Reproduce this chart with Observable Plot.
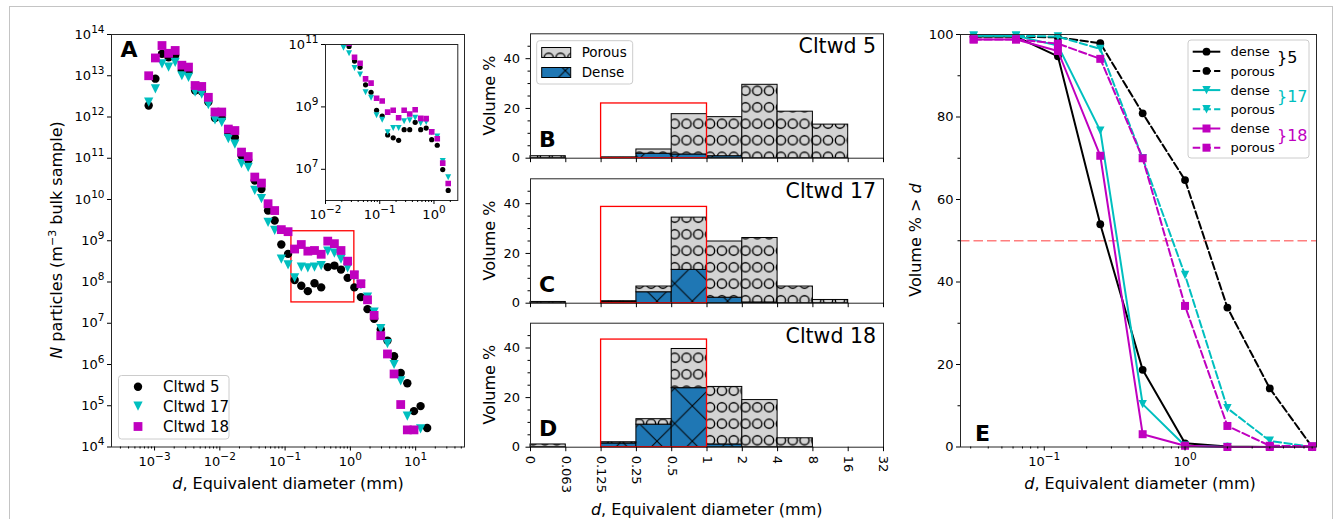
<!DOCTYPE html>
<html>
<head>
<meta charset="utf-8">
<script src="https://cdn.jsdelivr.net/npm/d3@7"></script>
<script src="https://cdn.jsdelivr.net/npm/@observablehq/plot@0.6"></script>
<style>
html,body{margin:0;padding:0;background:#fff;}
#fig{position:relative;width:1342px;height:519px;overflow:hidden;background:#fff;font-family:"DejaVu Sans",sans-serif;}
#fig > svg{position:absolute;overflow:visible;}
</style>
</head>
<body>
<div id="fig"></div>
<script>
// ---------------- Panel A: particle number vs equivalent diameter ----------------
const diamA = [0.000813,0.00103,0.0013,0.00164,0.00207,0.00262,0.00331,0.00418,0.00528,0.00667,0.00843,0.0107,0.0135,0.017,0.0215,0.0272,0.0343,0.0434,0.0548,0.0692,0.0875,0.111,0.14,0.177,0.223,0.282,0.357,0.45,0.569,0.718,0.908,1.15,1.45,1.83,2.31,2.92,3.7,4.67,5.9,7.45,9.42,11.9,15.0];
const nCltwd5  = [1.9e12,8.5e12,3.4e13,2.8e13,3.1e13,1.35e13,1.23e13,4.4e12,4.2e12,2.3e12,9.5e11,9.5e11,3.9e11,3.2e11,1.17e11,8.9e10,2.9e10,1.8e10,5.4e9,3.1e9,8.1e8,4.8e8,1.12e8,8.1e7,6.0e7,9.3e7,7.4e7,2.3e8,2.5e8,2.0e8,1.26e8,7.4e7,4.3e7,2.2e7,1.29e7,7.1e6,3.8e6,1.58e6,6.2e5,3.5e5,7.4e4,9.8e4,2.9e4];
const nCltwd17 = [2.3e12,4.8e12,1.95e13,1.62e13,2.1e13,1.0e13,9.1e12,4.0e12,3.6e12,2.0e12,8.5e11,7.4e11,3.0e11,2.2e11,7.4e10,6.0e10,1.66e10,1.05e10,2.8e9,1.78e9,3.6e8,2.6e8,1.26e8,2.3e8,2.2e8,2.3e8,2.5e8,5.6e8,5.0e8,3.6e8,2.2e8,1.4e8,8.5e7,4.3e7,1.86e7,7.4e6,3.2e6,1.0e6,4.0e5,5.6e4,null,2.75e4,null];
const nCltwd18 = [1.0e13,2.7e13,5.4e13,3.5e13,4.1e13,1.8e13,1.62e13,5.8e12,5.5e12,3.0e12,1.32e12,1.32e12,5.1e11,4.7e11,1.41e11,1.1e11,3.5e10,2.5e10,7.9e9,5.4e9,1.86e9,1.66e9,6.3e8,8.1e8,5.6e8,5.8e8,4.7e8,9.8e8,8.5e8,5.8e8,3.2e8,1.5e8,9.1e7,3.7e7,1.55e7,5.0e6,1.8e6,5.9e5,1.07e5,2.6e4,2.6e4,null,null];
const boxA = {d1: 0.125, d2: 1.15, n1: 3.2e7, n2: 1.7e9};
const ticksAX = [1e-3, 1e-2, 1e-1, 1, 10];
const ticksAY = [1e4,1e5,1e6,1e7,1e8,1e9,1e10,1e11,1e12,1e13,1e14];

// Inset of panel A
const diamInset = [0.0215,0.0272,0.0343,0.0434,0.0548,0.0692,0.0875,0.111,0.14,0.177,0.223,0.282,0.357,0.45,0.569,0.718,0.908,1.15,1.45,1.83];
const insetCltwd5  = [1.17e11,8.7e10,2.95e10,1.86e10,5.1e9,2.95e9,7.8e8,5.1e8,1.26e8,1.02e8,8.5e7,1.86e8,1.86e8,3.2e8,1.86e8,2.1e8,8.9e7,5.9e7,9.8e6,2.1e6];
const insetCltwd17 = [7.8e10,5.2e10,1.78e10,1.1e10,2.95e9,1.95e9,5.4e8,3.9e8,1.55e8,2.1e8,2.1e8,3.5e8,3.7e8,4.5e8,3.0e8,3.3e8,1.55e8,1.12e8,1.86e7,5.6e6];
const insetCltwd18 = [1.41e11,1.1e11,3.9e10,2.5e10,7.9e9,5.8e9,1.9e9,1.55e9,6.8e8,7.8e8,4.5e8,7.8e8,5.9e8,8.1e8,4.3e8,4.2e8,1.58e8,9.5e7,1.58e7,3.5e6];
const ticksInsetX = [0.01, 0.1, 1];
const ticksInsetY = [1e7, 1e9, 1e11];

// ---------------- Panels B-D: volume % per size bin ----------------
const binEdges = ["0","0.063","0.125","0.25","0.5","1","2","4","8","16","32"];
const dense5   = [0, 0, 0.2, 1.8, 1.5, 0.8, 0, 0, 0, 0];
const porous5  = [0.8, 0, 0.1, 1.7, 16.2, 15.7, 29.5, 18.7, 13.5, 0];
const dense17  = [0, 0, 0.5, 4.4, 13.4, 2.2, 0.3, 0, 0, 0];
const porous17 = [0.5, 0, 0.3, 2.3, 21.0, 22.6, 25.9, 6.7, 1.3, 0];
const dense18  = [0, 0, 1.5, 9.1, 23.8, 1.1, 0, 0, 0, 0];
const porous18 = [1.1, 0, 0.5, 2.2, 15.8, 23.2, 19.0, 3.6, 0, 0];
const boxEdges = ["0.125", "1"];
const boxTops = [22, 38.7, 43.4];
const ticksVol = [0, 20, 40];
const minorVol = [5, 10, 15, 25, 30, 35, 45];

// ---------------- Panel E: cumulative volume % > d ----------------
const dE = [0.0315, 0.063, 0.125, 0.25, 0.5, 1, 2, 4, 8];
const dense5E   = [99.5, 99.5, 94.7, 54.0, 18.7, 0.9, 0.1, 0, 0];
const porous5E  = [99.5, 99.5, 99.3, 97.9, 80.9, 64.7, 33.8, 14.2, 0];
const dense17E  = [99.7, 99.7, 97.3, 76.7, 10.4, 0.3, 0, 0, 0];
const porous17E = [99.7, 99.7, 99.5, 96.5, 70.0, 41.7, 9.4, 1.5, 0];
const dense18E  = [98.8, 98.8, 96.0, 70.6, 3.1, 0.3, 0, 0, 0];
const porous18E = [98.8, 98.8, 97.8, 94.1, 70.0, 34.2, 5.1, 0.3, 0.2];
const ticksEX = [0.1, 1];
const ticksEY = [0, 20, 40, 60, 80, 100];
const minorEY = [10, 30, 50, 70, 90];

// ---------------- helpers ----------------
const NS = "http://www.w3.org/2000/svg";
const fig = document.getElementById("fig");
const colK = "#000000", colC = "#00bfbf", colM = "#bf00bf";
const colBlue = "#1f77b4", colGray = "#d3d3d3";
const symTri = {draw(c, size){ const r = Math.sqrt(size/Math.PI); c.moveTo(-r,-r); c.lineTo(r,-r); c.lineTo(0,r); c.closePath(); }};
const symSq  = {draw(c, size){ const r = Math.sqrt(size/Math.PI); c.moveTo(-r,-r); c.lineTo(r,-r); c.lineTo(r,r); c.lineTo(-r,r); c.closePath(); }};
const baseStyle = {fontFamily: '"DejaVu Sans", sans-serif', fontSize: "13px", color: "#000", overflow: "visible"};
const pow = v => "10^" + Math.round(Math.log10(v));
const blank = () => "";
function logMinors(lo, hi) {
  const out = [];
  for (let k = Math.floor(Math.log10(lo)); k <= Math.ceil(Math.log10(hi)); k++)
    for (let m = 2; m <= 9; m++) { const v = +(m * Math.pow(10, k)).toPrecision(6); if (v >= lo && v <= hi) out.push(v); }
  return out;
}
function supify(svg) {
  svg.querySelectorAll("text").forEach(t => {
    const m = /^10\^(-?\d+)$/.exec(t.textContent.trim());
    if (!m) return;
    t.textContent = "";
    const a = document.createElementNS(NS, "tspan"); a.textContent = "10";
    const b = document.createElementNS(NS, "tspan"); b.textContent = m[1].replace("-", "\u2212");
    b.setAttribute("dy", "-6"); b.setAttribute("font-size", "10.5px");
    t.append(a, b);
  });
}
function put(svg, left, top) {
  svg.style.position = "absolute"; svg.style.left = left + "px"; svg.style.top = top + "px";
  fig.appendChild(svg); supify(svg);
}

// pattern defs (hatches)
fig.insertAdjacentHTML("beforeend", `
<svg width="0" height="0" style="left:0;top:0">
 <defs>
  <pattern id="hatchO" patternUnits="userSpaceOnUse" width="11.8" height="16.5">
    <rect width="11.8" height="16.5" fill="${colGray}"/>
    <circle cx="5.9" cy="8.25" r="4.6" fill="none" stroke="#000" stroke-width="1.4"/>
  </pattern>
  <pattern id="hatchX" patternUnits="userSpaceOnUse" width="35.3" height="35.3" x="530" y="0">
    <rect width="35.3" height="35.3" fill="${colBlue}"/>
    <path d="M0,0L35.3,35.3M35.3,0L0,35.3" stroke="#000" stroke-width="1"/>
  </pattern>
 </defs>
</svg>`);

// ---------------- Panel A ----------------
const rowsA = diamA.map((d, i) => ({d, n5: nCltwd5[i], n17: nCltwd17[i], n18: nCltwd18[i]}));
const plotA = Plot.plot({
  width: 480, height: 519, marginLeft: 111, marginRight: 16, marginTop: 34, marginBottom: 72.5,
  style: baseStyle,
  x: {type: "log", domain: [2.19e-4, 56], label: null},
  y: {type: "log", domain: [1e4, 1e14], label: null},
  marks: [
    Plot.rect([boxA], {x1: "d1", x2: "d2", y1: "n1", y2: "n2", fill: "none", stroke: "#ff0000", strokeWidth: 1.3}),
    Plot.dot(rowsA, {x: "d", y: "n5", r: 4.2, symbol: "circle", fill: colK}),
    Plot.dot(rowsA, {x: "d", y: "n17", r: 4.6, symbol: symTri, fill: colC}),
    Plot.dot(rowsA, {x: "d", y: "n18", r: 4.4, symbol: symSq, fill: colM}),
    Plot.frame({stroke: "#262626"}),
    Plot.axisY({ticks: ticksAY, tickFormat: pow, tickSize: 4, tickPadding: 3, label: null}),
    Plot.axisX({ticks: ticksAX, tickFormat: pow, tickSize: 4, tickPadding: 6, label: null}),
    Plot.axisX({ticks: logMinors(2.19e-4, 56), tickFormat: blank, tickSize: 2, label: null})
  ]
});
put(plotA, 0, 0);

// ---------------- Inset ----------------
const rowsIn = diamInset.map((d, i) => ({d, n5: insetCltwd5[i], n17: insetCltwd17[i], n18: insetCltwd18[i]}));
const plotIn = Plot.plot({
  width: 180, height: 200, marginLeft: 35, marginRight: 12.7, marginTop: 14, marginBottom: 30,
  style: baseStyle,
  x: {type: "log", domain: [0.01, 2.75], label: null},
  y: {type: "log", domain: [1e6, 1e11], label: null},
  marks: [
    Plot.frame({fill: "white", stroke: null}),
    Plot.dot(rowsIn, {x: "d", y: "n5", r: 2.6, symbol: "circle", fill: colK, clip: true}),
    Plot.dot(rowsIn, {x: "d", y: "n17", r: 3.0, symbol: symTri, fill: colC, clip: true}),
    Plot.dot(rowsIn, {x: "d", y: "n18", r: 2.8, symbol: symSq, fill: colM, clip: true}),
    Plot.frame({stroke: "#262626"}),
    Plot.axisY({ticks: ticksInsetY, tickFormat: pow, tickSize: 4, tickPadding: 3, label: null}),
    Plot.axisX({ticks: ticksInsetX, tickFormat: pow, tickSize: 4, tickPadding: 5, label: null}),
    Plot.axisX({ticks: logMinors(0.01, 2.75), tickFormat: blank, tickSize: 2, label: null})
  ]
});
put(plotIn, 290, 30);

// ---------------- Panels B, C, D ----------------
function histPanel(dense, porous, boxTop, height, mt, mb, showLabels) {
  const rows = dense.map((v, i) => ({i, dense: v, top: v + porous[i]}));
  const box = [{a: binEdges.indexOf(boxEdges[0]), b: binEdges.indexOf(boxEdges[1]), t: boxTop}];
  return Plot.plot({
    width: 420, height, marginLeft: 50, marginRight: 17, marginTop: mt, marginBottom: mb,
    style: baseStyle,
    x: {domain: [0, binEdges.length - 1], label: null},
    y: {domain: [0, 50], label: null},
    marks: [
      Plot.rect(rows, {x1: "i", x2: d => d.i + 1, y1: 0, y2: "dense", fill: "url(#hatchX)", stroke: "#000", strokeWidth: 1}),
      Plot.rect(rows, {x1: "i", x2: d => d.i + 1, y1: "dense", y2: "top", fill: "url(#hatchO)", stroke: "#000", strokeWidth: 1}),
      Plot.rect(box, {x1: "a", x2: "b", y1: 0, y2: "t", fill: "none", stroke: "#ff0000", strokeWidth: 1.3}),
      Plot.frame({stroke: "#262626"}),
      Plot.axisY({ticks: ticksVol, tickSize: 4.5, tickPadding: 6, label: null}),
      Plot.axisY({ticks: minorVol, tickFormat: blank, tickSize: 2.5, label: null}),
      showLabels
        ? Plot.axisX({ticks: d3.range(binEdges.length), tickFormat: i => binEdges[i], tickRotate: 90, tickSize: 4.5, tickPadding: 4, label: null})
        : Plot.axisX({ticks: d3.range(binEdges.length), tickFormat: blank, tickSize: 4.5, label: null})
    ]
  });
}
put(histPanel(dense5, porous5, boxTops[0], 175, 33.3, 17.3, false), 480, 0);
put(histPanel(dense17, porous17, boxTops[1], 160, 18.3, 17.3, false), 480, 160);
put(histPanel(dense18, porous18, boxTops[2], 219, 22.7, 72.3, true), 480, 300);

// ---------------- Panel E ----------------
const dashE = "7.5,3.2";
const seriesE = [
  {vals: dense5E,   color: colK, sym: "circle", r: 3.9, dash: null},
  {vals: porous5E,  color: colK, sym: "circle", r: 3.9, dash: dashE},
  {vals: dense17E,  color: colC, sym: symTri,  r: 4.2, dash: null},
  {vals: porous17E, color: colC, sym: symTri,  r: 4.2, dash: dashE},
  {vals: dense18E,  color: colM, sym: symSq,   r: 4.0, dash: null},
  {vals: porous18E, color: colM, sym: symSq,   r: 4.0, dash: dashE}
];
const plotE = Plot.plot({
  width: 452, height: 519, marginLeft: 70, marginRight: 26, marginTop: 34, marginBottom: 72.5,
  style: baseStyle,
  x: {type: "log", domain: [0.0254, 8.59], label: null},
  y: {domain: [0, 100], label: null},
  marks: [
    Plot.ruleY([50], {stroke: "#ff7f7f", strokeWidth: 1.6, strokeDasharray: "9.5,4"}),
    ...seriesE.flatMap(s => {
      const rows = dE.map((d, i) => ({d, v: s.vals[i]}));
      return [
        Plot.line(rows, {x: "d", y: "v", stroke: s.color, strokeWidth: 2, strokeDasharray: s.dash}),
        Plot.dot(rows, {x: "d", y: "v", r: s.r, symbol: s.sym, fill: s.color})
      ];
    }),
    Plot.frame({stroke: "#262626"}),
    Plot.axisY({ticks: ticksEY, tickSize: 4, tickPadding: 3, label: null}),
    Plot.axisY({ticks: minorEY, tickFormat: blank, tickSize: 2.5, label: null}),
    Plot.axisX({ticks: ticksEX, tickFormat: pow, tickSize: 4, tickPadding: 6, label: null}),
    Plot.axisX({ticks: logMinors(0.0254, 8.59), tickFormat: blank, tickSize: 2, label: null})
  ]
});
put(plotE, 890, 0);

// ---------------- overlay: labels, legends, annotations ----------------
const tri = (x, y, r, c) => `<path d="M${x-r},${y-r}L${x+r},${y-r}L${x},${y+r}Z" fill="${c}"/>`;
const sq = (x, y, r, c) => `<rect x="${x-r}" y="${y-r}" width="${2*r}" height="${2*r}" fill="${c}"/>`;
const circ = (x, y, r, c) => `<circle cx="${x}" cy="${y}" r="${r}" fill="${c}"/>`;
const eRows = [51.7, 70.9, 90.1, 109.3, 128.5, 147.7];
const eLegend = seriesE.map((s, i) => {
  const y = eRows[i];
  const mk = s.sym === "circle" ? circ(1206.5, y, s.r, s.color) : s.sym === symTri ? tri(1206.5, y, s.r, s.color) : sq(1206.5, y, s.r, s.color);
  return `<line x1="1192.7" x2="1220.3" y1="${y}" y2="${y}" stroke="${s.color}" stroke-width="2" ${s.dash ? `stroke-dasharray="${s.dash}"` : ""}/>${mk}
  <text x="1230.5" y="${y + 4.7}" font-size="13">${i % 2 === 0 ? "dense" : "porous"}</text>`;
}).join("");
const histTitles = [["Cltwd 5", "B", 33.3, 157.7], ["Cltwd 17", "C", 178.3, 302.7], ["Cltwd 18", "D", 322.7, 446.7]];
fig.insertAdjacentHTML("beforeend", `
<svg width="1342" height="519" style="left:0;top:0" font-family="DejaVu Sans, sans-serif" fill="#000">
  <rect x="9.5" y="6.5" width="1323" height="540" fill="none" stroke="#c4c4c4" stroke-width="1"/>
  <text x="120.5" y="56.7" font-size="22" font-weight="bold">A</text>
  <text transform="translate(61.7,240) rotate(-90)" text-anchor="middle" font-size="16"><tspan font-style="italic">N</tspan> particles (m<tspan dy="-6" font-size="11">\u22123</tspan><tspan dy="6"> bulk sample)</tspan></text>
  <text x="288" y="489" text-anchor="middle" font-size="16"><tspan font-style="italic">d</tspan>, Equivalent diameter (mm)</text>
  <rect x="118.5" y="375.5" width="110.5" height="63.5" rx="3" fill="#fff" fill-opacity="0.8" stroke="#cccccc"/>
  ${circ(138, 386.7, 4.2, colK)}${tri(138, 406.2, 4.6, colC)}${sq(138, 426.5, 4.4, colM)}
  <text x="163" y="392.2" font-size="15">Cltwd 5</text>
  <text x="163" y="411.7" font-size="15">Cltwd 17</text>
  <text x="163" y="432" font-size="15">Cltwd 18</text>

  ${histTitles.map(([t, l, top, bot]) => `
    <text x="876" y="${top + 20}" text-anchor="end" font-size="20.5">${t}</text>
    <text x="539" y="${bot - 10.7}" font-size="22" font-weight="bold">${l}</text>
    <text transform="translate(495,${(top + bot) / 2}) rotate(-90)" text-anchor="middle" font-size="16">Volume %</text>`).join("")}
  <rect x="536.7" y="40.7" width="96" height="43.3" rx="3" fill="#fff" fill-opacity="0.8" stroke="#cccccc"/>
  <rect x="541.7" y="47.5" width="29" height="10" fill="url(#hatchO)" stroke="#000"/>
  <rect x="541.7" y="67.5" width="29" height="10" fill="url(#hatchX)" stroke="#000"/>
  <text x="581.7" y="57.2" font-size="13.5">Porous</text>
  <text x="581.7" y="77.4" font-size="13.5">Dense</text>
  <text x="706.7" y="515" text-anchor="middle" font-size="16"><tspan font-style="italic">d</tspan>, Equivalent diameter (mm)</text>

  <text x="975" y="441" font-size="22" font-weight="bold">E</text>
  <text transform="translate(921,240) rotate(-90)" text-anchor="middle" font-size="16">Volume % &gt; <tspan font-style="italic">d</tspan></text>
  <text x="1140" y="489" text-anchor="middle" font-size="16"><tspan font-style="italic">d</tspan>, Equivalent diameter (mm)</text>
  <rect x="1188" y="40" width="121" height="118" rx="3" fill="#fff" fill-opacity="0.8" stroke="#cccccc"/>
  ${eLegend}
  <text x="1277" y="63" font-size="16" fill="${colK}">}5</text>
  <text x="1277" y="102" font-size="16" fill="${colC}">}17</text>
  <text x="1277" y="140.5" font-size="16" fill="${colM}">}18</text>
</svg>`);
</script>
</body>
</html>
